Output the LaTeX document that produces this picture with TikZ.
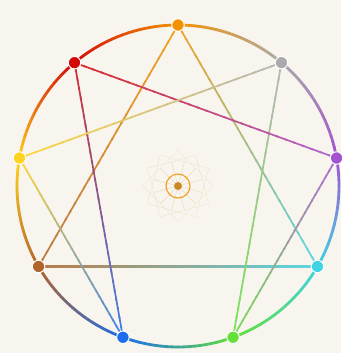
\documentclass[tikz,border=0pt]{standalone}
\usetikzlibrary{calc}
\definecolor{bg}{HTML}{F8F5EE}
\definecolor{c9}{HTML}{F39200}
\definecolor{c1}{HTML}{ABABAB}
\definecolor{c2}{HTML}{A352D0}
\definecolor{c3}{HTML}{3FD3E3}
\definecolor{c4}{HTML}{63E03A}
\definecolor{c5}{HTML}{1D6CEB}
\definecolor{c6}{HTML}{B0652B}
\definecolor{c7}{HTML}{FFD21E}
\definecolor{c8}{HTML}{D40808}
\definecolor{petal}{HTML}{EED9BA}
\tikzset{
  dot/.style={circle, inner sep=0pt, minimum size=12.5pt, draw=white, line width=1pt},
  chord/.style={line width=1.7pt, line cap=butt},
  rim/.style={line width=2.8pt, line cap=round},
}
\newcommand{\gradchord}[4]{%
  \foreach \i in {1,...,30}{%
    \pgfmathsetmacro\ta{max(0,(\i-1.3)/30)}%
    \pgfmathsetmacro\tb{\i/30}%
    \pgfmathtruncatemacro\pc{100-100*(\i-0.5)/30}%
    \colorlet{segc}{#3!\pc!#4}%
    \draw[chord, color=segc!85!bg] ($(#1)!\ta!(#2)$) -- ($(#1)!\tb!(#2)$);
  }}
\newcommand{\gradarc}[4]{%
  \foreach \i in {1,...,20}{%
    \pgfmathsetmacro\aa{#1+(#2-(#1))*(\i-1)/20}%
    \pgfmathsetmacro\ab{#1+(#2-(#1))*\i/20}%
    \pgfmathtruncatemacro\pc{100-100*(\i-0.5)/20}%
    \draw[rim, color=#3!\pc!#4] ($(O)+(\aa:161)$) arc[start angle=\aa, end angle=\ab, radius=161];
  }}
\colorlet{h3}{c3!85!bg}
\colorlet{h6}{c6!85!bg}
\begin{document}
\begin{tikzpicture}[x=1pt,y=1pt]
\fill[bg] (0,0) rectangle (341,353);
\useasboundingbox (0,0) rectangle (341,353);
\coordinate (O) at (178,167);
\foreach \n/\ang in {9/90,1/50,2/10,3/-30,4/-70,5/-110,6/-150,7/170,8/130}
  \coordinate (q\n) at ($(O)+(\ang:161)$);
% centre rosette
\foreach \a in {0,30,...,330}
  \draw[petal, line width=0.5pt, opacity=0.55, rotate around={\a:(O)}]
    (O) -- ++(15:25) -- ++(105:25) -- ++(195:25) -- cycle;
\node[circle, draw=c9!90!bg, line width=1.1pt, minimum size=24pt, inner sep=0pt] (ring) at (O) {};
\node[circle, fill=c9!80!black!85!bg, minimum size=8pt, inner sep=0pt] (core) at (O) {};
% rim
\gradarc{90}{50}{c9}{c1}
\gradarc{50}{10}{c1}{c2}
\gradarc{10}{-30}{c2}{c3}
\gradarc{-30}{-70}{c3}{c4}
\gradarc{-70}{-110}{c4}{c5}
\gradarc{-110}{-150}{c5}{c6}
\gradarc{-150}{-190}{c6}{c7}
\gradarc{170}{130}{c7}{c8}
\gradarc{130}{90}{c8}{c9}
% triangle
\gradchord{q9}{q3}{c9}{c3}
\shade[left color=h6, right color=h3] ($(q6)+(0,-0.85)$) rectangle ($(q3)+(0,0.85)$);
\gradchord{q6}{q9}{c6}{c9}
% hexad
\gradchord{q1}{q4}{c1}{c4}
\gradchord{q4}{q2}{c4}{c2}
\gradchord{q2}{q8}{c2}{c8}
\gradchord{q8}{q5}{c8}{c5}
\gradchord{q5}{q7}{c5}{c7}
\gradchord{q7}{q1}{c7}{c1}
% dots
\foreach \n in {1,...,9}
  \node[dot, fill=c\n] (p\n) at (q\n) {};
\end{tikzpicture}
\end{document}
